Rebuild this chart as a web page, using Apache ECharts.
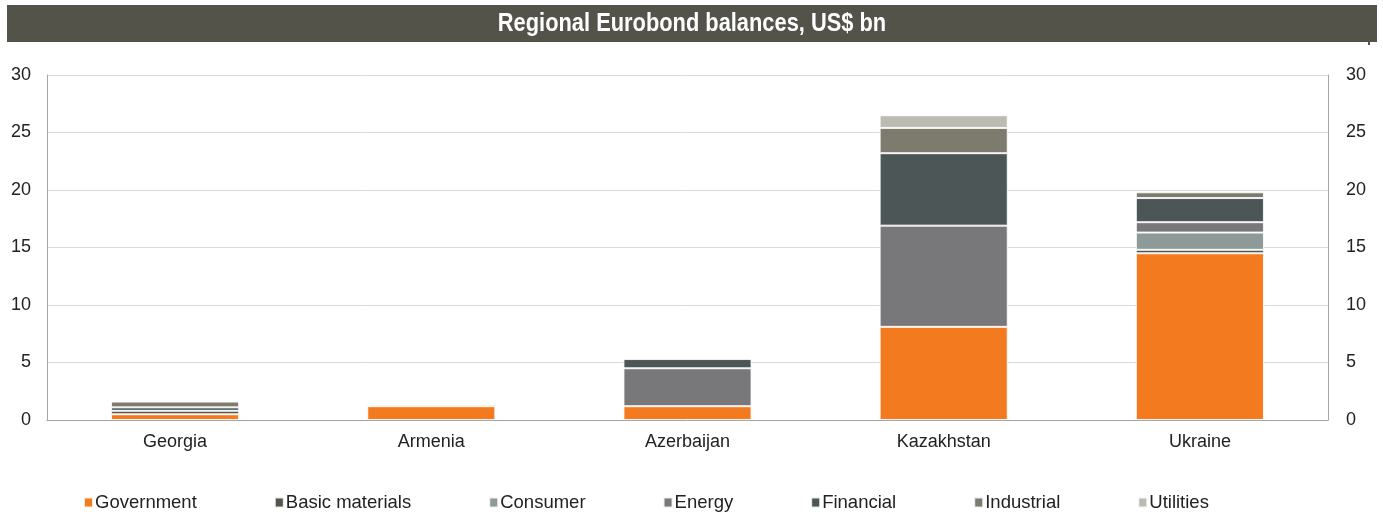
<!DOCTYPE html>
<html>
<head>
<meta charset="utf-8">
<title>Regional Eurobond balances</title>
<script src="https://cdn.jsdelivr.net/npm/echarts@6/dist/echarts.min.js"></script>
<style>
  html, body { margin: 0; padding: 0; background: #fff; }
  #chart { width: 1383px; height: 512px; }
</style>
</head>
<body>
<div id="chart"></div>
<script>
// categories
const countries = ['Georgia', 'Armenia', 'Azerbaijan', 'Kazakhstan', 'Ukraine']
// sector names (legend order)
const sectors = ['Government', 'Basic materials', 'Consumer', 'Energy', 'Financial', 'Industrial', 'Utilities']
// values, US$ bn, one array per sector
const government = [0.5, 1.2, 1.2, 8.1, 14.5]
const basicMaterials = [0.3, 0, 0, 0, 0.3]
const consumer = [0, 0, 0, 0, 1.5]
const energy = [0, 0, 3.3, 8.8, 0.9]
const financial = [0.3, 0, 0.8, 6.3, 2.1]
const industrial = [0.5, 0, 0, 2.2, 0.5]
const utilities = [0, 0.15, 0, 1.1, 0]
// y axis ticks
const yMin = 0
const yMax = 30
const yStep = 5

const sectorValues = [government, basicMaterials, consumer, energy, financial, industrial, utilities]
const colors = ['#f47a20', '#55544c', '#8d9a98', '#78787a', '#4c5657', '#7c7b6e', '#bcbab1']

const chart = echarts.init(document.getElementById('chart'))

const axisLabel = { fontFamily: 'Liberation Sans, Arial, sans-serif', fontSize: 18, color: '#222' }

const option = {
  animation: false,
  color: colors,
  graphic: [
    {
      // dark title band
      type: 'rect',
      shape: { x: 7, y: 5, width: 1370, height: 37 },
      style: { fill: '#54534a' },
      z: 0
    },
    {
      // title is condensed in the original, squeeze it horizontally
      type: 'text',
      x: 692,
      y: 24,
      scaleX: 0.84,
      style: {
        text: 'Regional Eurobond balances, US$ bn',
        fill: '#fff',
        font: 'bold 26px "Liberation Sans", Arial, sans-serif',
        align: 'center',
        verticalAlign: 'middle'
      },
      z: 1
    },
    {
      // little corner mark under the band
      type: 'rect',
      shape: { x: 1368, y: 42, width: 2, height: 3 },
      style: { fill: '#54534a' }
    }
  ],
  grid: { left: 47, right: 55, top: 75, bottom: 92 },
  legend: {
    left: 78,
    top: 488,
    itemWidth: 9,
    itemHeight: 10,
    itemGap: 77,
    icon: 'rect',
    textStyle: { fontFamily: 'Liberation Sans, Arial, sans-serif', fontSize: 18.5, color: '#222', padding: [0, 0, 0, -3] },
    data: sectors
  },
  xAxis: {
    type: 'category',
    data: countries,
    axisLine: { lineStyle: { color: '#a6a6a6', width: 1 } },
    axisTick: { show: false },
    axisLabel: { ...axisLabel, margin: 13 }
  },
  yAxis: [
    {
      type: 'value',
      min: yMin,
      max: yMax,
      interval: yStep,
      axisLine: { show: true, lineStyle: { color: '#a6a6a6' } },
      axisTick: { show: false },
      splitLine: { lineStyle: { color: '#d9d9d9' } },
      axisLabel: { ...axisLabel, margin: 16 }
    },
    {
      type: 'value',
      position: 'right',
      min: yMin,
      max: yMax,
      interval: yStep,
      axisLine: { show: true, lineStyle: { color: '#a6a6a6' } },
      axisTick: { show: false },
      splitLine: { show: false },
      axisLabel: { ...axisLabel, margin: 18 }
    }
  ],
  series: sectors.map((name, i) => ({
    name,
    type: 'bar',
    stack: 'total',
    barWidth: '50%',
    data: sectorValues[i].map(v => (v > 0 ? v : null)),
    itemStyle: { borderColor: 'rgba(255,255,255,0.85)', borderWidth: 1 }
  }))
}

chart.setOption(option)
</script>
</body>
</html>
